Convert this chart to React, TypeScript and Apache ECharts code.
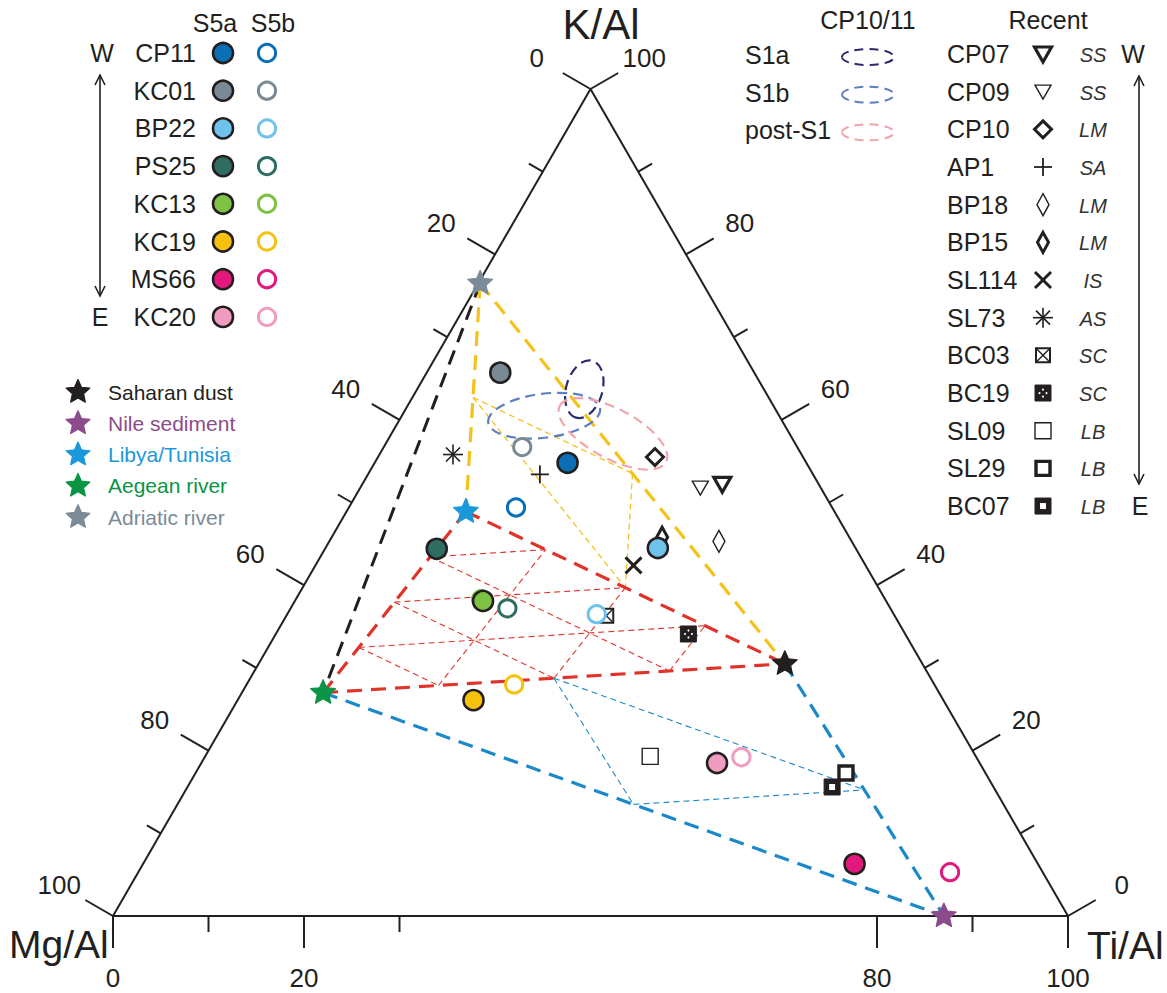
import React, { useEffect, useRef } from 'react';
import * as echarts from 'echarts';

// ---------------- data ----------------
const S5_SITES = ['CP11', 'KC01', 'BP22', 'PS25', 'KC13', 'KC19', 'MS66', 'KC20'];
const S5A_MG = [25.0, 26.6, 20.7, 43.9, 42.2, 49.2, 19.2, 27.5];
const S5A_TI = [20.2, 7.7, 34.8, 11.7, 19.7, 24.7, 74.5, 54.0];
const S5A_K = [54.8, 65.7, 44.5, 44.4, 38.1, 26.1, 6.3, 18.5];
const S5B_MG = [33.1, 28.8, 31.1, 40.1, 42.3, 44.0, 9.7, 24.6];
const S5B_TI = [17.5, 14.5, 32.4, 22.7, 19.4, 28.0, 85.0, 56.2];
const S5B_K = [49.4, 56.7, 36.5, 37.2, 38.3, 28.0, 5.3, 19.2];

const RECENT_SITES = ['CP07', 'CP09', 'CP10', 'AP1', 'BP18', 'BP15', 'SL114', 'SL73', 'BC03', 'BC19', 'SL09', 'SL29', 'BC07'];
const RECENT_CODES = ['SS', 'SS', 'LM', 'SA', 'LM', 'LM', 'IS', 'AS', 'SC', 'SC', 'LB', 'LB', 'LB'];
const RECENT_MG = [10.1, 12.6, 15.5, 28.6, 13.9, 19.6, 24.3, 36.5, 30.2, 22.7, 34.1, 14.6, 16.9];
const RECENT_TI = [37.7, 35.6, 29.0, 18.0, 40.8, 34.6, 33.3, 7.7, 33.5, 43.2, 46.6, 68.1, 67.5];
const RECENT_K = [52.2, 51.8, 55.5, 53.4, 45.3, 45.8, 42.4, 55.8, 36.3, 34.1, 19.3, 17.3, 15.6];

const EM_NAMES = ['Saharan dust', 'Nile sediment', 'Libya/Tunisia', 'Aegean river', 'Adriatic river'];
const EM_MG = [14.4, 13.0, 38.6, 64.5, 23.3];
const EM_TI = [55.1, 87.0, 12.5, 8.5, 0.2];
const EM_K = [30.5, 0.0, 48.9, 27.0, 76.5];

const ELL_NAMES = ['S1a', 'S1b', 'post-S1'];
const ELL_MG = [18.8, 24.6, 18.5];
const ELL_TI = [17.5, 14.9, 23.2];
const ELL_K = [63.7, 60.5, 58.3];
const ELL_SEMI_MAJOR = [3.1, 5.9, 6.3];
const ELL_SEMI_MINOR = [1.9, 2.3, 2.6];
const ELL_ANGLE = [74, 7, -28];

const TICK_VALUES = [0, 10, 20, 30, 40, 50, 60, 70, 80, 90, 100];
const BOTTOM_TICK_VALUES = [0, 10, 20, 30, 80, 90, 100];
const BOTTOM_LABELS = ['0', '20', '80', '100'];
const LEFT_LABELS = ['0', '20', '40', '60', '80', '100'];
const RIGHT_LABELS = ['0', '20', '40', '60', '80', '100'];

// ---------------- styles ----------------
const FONT = '"Liberation Sans", Arial, Helvetica, sans-serif';
const INK = '#231f20';
const S5_COLORS = ['#0b6fb6', '#7a8a95', '#6fc2ec', '#2f6d62', '#7dc242', '#f7c20e', '#e2197c', '#f09cc0'];
const EM_COLORS = ['#231f20', '#8c4b8a', '#1b98d9', '#0b9444', '#7b8b97'];
const ELL_COLORS = ['#2a2a72', '#5f7fc0', '#f2a3ab'];
const RECENT_KINDS = ['triBold', 'tri', 'diamondBold', 'plus', 'tallDiamond', 'tallDiamondBold', 'cross', 'asterisk', 'boxX', 'dotSquare', 'square', 'squareBold', 'holeSquare'];
const YELLOW = '#f5c21b';
const RED = '#e0332a';
const BLUE = '#1a88c9';

// ---------------- geometry helpers ----------------
const S3 = Math.sqrt(3) / 2;
const cart = (mg: number, ti: number, k: number): number[] => {
  const s = mg + ti + k;
  return [((ti + k / 2) / s) * 100, (k / s) * 100 * S3];
};
const lerp = (a: number[], b: number[], t: number) => [a[0] + (b[0] - a[0]) * t, a[1] + (b[1] - a[1]) * t];
const EM = EM_NAMES.map((_, i) => cart(EM_MG[i], EM_TI[i], EM_K[i]));
const [SAH, NILE, LIB, AEG, ADR] = EM;

function gridSegs(P: number[], Q: number[], R: number[], n: number) {
  const segs: number[][][] = [];
  for (let i = 1; i < n; i++) {
    const t = i / n;
    segs.push([lerp(P, Q, t), lerp(P, R, t)]);
    segs.push([lerp(Q, P, t), lerp(Q, R, t)]);
    segs.push([lerp(R, P, t), lerp(R, Q, t)]);
  }
  return segs;
}

function starPts(cx: number, cy: number, R: number) {
  const pts: number[][] = [];
  for (let i = 0; i < 10; i++) {
    const r = i % 2 === 0 ? R : R * 0.47;
    const a = -Math.PI / 2 + (i * Math.PI) / 5;
    pts.push([cx + r * Math.cos(a), cy + r * Math.sin(a)]);
  }
  return pts;
}
const starEl = (x: number, y: number, color: string, R = 13) => [
  { type: 'polygon', shape: { points: starPts(x, y, R) }, style: { fill: color, stroke: color, lineWidth: 1.2, lineJoin: 'round' } },
];
const filledCircle = (x: number, y: number, color: string) => [
  { type: 'circle', shape: { cx: x, cy: y, r: 10 }, style: { fill: color, stroke: INK, lineWidth: 2.6 } },
];
const openCircle = (x: number, y: number, color: string) => [
  { type: 'circle', shape: { cx: x, cy: y, r: 8.6 }, style: { fill: '#fff', stroke: color, lineWidth: 3 } },
];
const ln = (x1: number, y1: number, x2: number, y2: number, lw: number, color = INK) => ({
  type: 'line', shape: { x1, y1, x2, y2 }, style: { stroke: color, lineWidth: lw },
});
function recentSym(kind: string, x: number, y: number): any[] {
  const st = (lw: number, fill = '#fff') => ({ stroke: INK, lineWidth: lw, fill, lineJoin: 'miter' });
  switch (kind) {
    case 'tri':
      return [{ type: 'polygon', shape: { points: [[x - 8, y - 6.5], [x + 8, y - 6.5], [x, y + 7.5]] }, style: st(1.4) }];
    case 'triBold':
      return [{ type: 'polygon', shape: { points: [[x - 8.5, y - 7], [x + 8.5, y - 7], [x, y + 8]] }, style: st(3.2) }];
    case 'diamondBold':
      return [{ type: 'polygon', shape: { points: [[x, y - 8.5], [x + 8.5, y], [x, y + 8.5], [x - 8.5, y]] }, style: st(3) }];
    case 'plus':
      return [ln(x - 9, y, x + 9, y, 1.8), ln(x, y - 9, x, y + 9, 1.8)];
    case 'tallDiamond':
      return [{ type: 'polygon', shape: { points: [[x, y - 11], [x + 6, y], [x, y + 11], [x - 6, y]] }, style: st(1.4) }];
    case 'tallDiamondBold':
      return [{ type: 'polygon', shape: { points: [[x, y - 10], [x + 5.5, y], [x, y + 10], [x - 5.5, y]] }, style: st(3) }];
    case 'cross':
      return [ln(x - 8, y - 8, x + 8, y + 8, 3), ln(x - 8, y + 8, x + 8, y - 8, 3)];
    case 'asterisk':
      return [
        ln(x - 10, y, x + 10, y, 1.6), ln(x, y - 10, x, y + 10, 1.6),
        ln(x - 7, y - 7, x + 7, y + 7, 1.6), ln(x - 7, y + 7, x + 7, y - 7, 1.6),
      ];
    case 'boxX':
      return [
        { type: 'rect', shape: { x: x - 7, y: y - 7, width: 14, height: 14 }, style: st(2) },
        ln(x - 6, y - 6, x + 6, y + 6, 1.4), ln(x - 6, y + 6, x + 6, y - 6, 1.4),
      ];
    case 'dotSquare':
      return [
        { type: 'rect', shape: { x: x - 8, y: y - 8, width: 16, height: 16 }, style: { fill: INK, stroke: INK, lineWidth: 1 } },
        ...[[0, -3.5], [-3.5, 0], [3.5, 0], [0, 3.5]].map((d) => ({
          type: 'circle', shape: { cx: x + d[0], cy: y + d[1], r: 1 }, style: { fill: '#fff' },
        })),
      ];
    case 'square':
      return [{ type: 'rect', shape: { x: x - 8, y: y - 8, width: 16, height: 16 }, style: st(1.4) }];
    case 'squareBold':
      return [{ type: 'rect', shape: { x: x - 7, y: y - 7, width: 14, height: 14 }, style: st(3.4) }];
    case 'holeSquare':
      return [
        { type: 'rect', shape: { x: x - 8, y: y - 8, width: 16, height: 16 }, style: { fill: INK, stroke: INK, lineWidth: 1 } },
        { type: 'rect', shape: { x: x - 3, y: y - 3, width: 6, height: 6 }, style: { fill: '#fff' } },
      ];
  }
  return [];
}

const txt = (x: number, y: number, text: string, size: number, color = INK, align = 'center', extra = '') => ({
  type: 'text',
  x,
  y,
  style: {
    text,
    fill: color,
    font: `${extra}${size}px ${FONT}`,
    align,
    verticalAlign: 'middle',
    textAlign: align,
    textVerticalAlign: 'middle',
  },
});

// ---------------- series builders ----------------
function segSeries(name: string, segs: number[][][], color: string, lw: number, dash: number[] | null) {
  return {
    type: 'custom',
    name,
    coordinateSystem: 'cartesian2d',
    clip: false,
    silent: true,
    data: segs.map((s) => [s[0][0], s[0][1], s[1][0], s[1][1]]),
    encode: { x: [0, 2], y: [1, 3] },
    renderItem: (_p: any, api: any) => {
      const a = api.coord([api.value(0), api.value(1)]);
      const b = api.coord([api.value(2), api.value(3)]);
      return {
        type: 'line',
        shape: { x1: a[0], y1: a[1], x2: b[0], y2: b[1] },
        style: { stroke: color, lineWidth: lw, lineDash: dash || undefined, lineCap: 'butt' },
      };
    },
  };
}

function pointSeries(name: string, pts: number[][], draw: (i: number, x: number, y: number) => any[]) {
  return {
    type: 'custom',
    name,
    coordinateSystem: 'cartesian2d',
    clip: false,
    silent: true,
    data: pts,
    renderItem: (params: any, api: any) => {
      const p = api.coord([api.value(0), api.value(1)]);
      return { type: 'group', children: draw(params.dataIndex, p[0], p[1]) };
    },
  };
}

const EDGE_DIR = [[0, 1], [-S3, -0.5], [S3, -0.5]];
const tickPoint = (edge: number, v: number) =>
  edge === 0 ? cart(100 - v, v, 0) : edge === 1 ? cart(v, 0, 100 - v) : cart(0, 100 - v, v);

function buildOption() {
  const corners = [cart(100, 0, 0), cart(0, 100, 0), cart(0, 0, 100)];
  const outline = [[corners[0], corners[1]], [corners[1], corners[2]], [corners[2], corners[0]]];

  const tickData: number[][] = [];
  BOTTOM_TICK_VALUES.forEach((v) => tickData.push([0, v]));
  TICK_VALUES.forEach((v) => tickData.push([1, v]));
  TICK_VALUES.forEach((v) => tickData.push([2, v]));
  const labelSets = [BOTTOM_LABELS, LEFT_LABELS, RIGHT_LABELS];

  const tickSeries = {
    type: 'custom',
    name: 'ticks',
    coordinateSystem: 'cartesian2d',
    clip: false,
    silent: true,
    data: tickData,
    renderItem: (_p: any, api: any) => {
      const edge = api.value(0);
      const v = api.value(1);
      const p = api.coord(tickPoint(edge, v));
      const d = EDGE_DIR[edge];
      const len = v % 20 === 0 ? 32 : 16;
      const children: any[] = [ln(p[0], p[1], p[0] + d[0] * len, p[1] + d[1] * len, 2)];
      if (labelSets[edge].includes(String(v))) {
        children.push(txt(p[0] + d[0] * 62, p[1] + d[1] * 62, String(v), 26));
      }
      return { type: 'group', children };
    },
  };

  const ellipseSeries = {
    type: 'custom',
    name: 'CP10/11',
    coordinateSystem: 'cartesian2d',
    clip: false,
    silent: true,
    data: ELL_NAMES.map((_, i) => cart(ELL_MG[i], ELL_TI[i], ELL_K[i])),
    renderItem: (params: any, api: any) => {
      const i = params.dataIndex;
      const c = api.coord([api.value(0), api.value(1)]);
      const u = api.size([1, 1]);
      return {
        type: 'ellipse',
        x: c[0],
        y: c[1],
        rotation: (ELL_ANGLE[i] * Math.PI) / 180,
        shape: { cx: 0, cy: 0, rx: ELL_SEMI_MAJOR[i] * u[0], ry: ELL_SEMI_MINOR[i] * u[1] },
        style: { fill: 'none', stroke: ELL_COLORS[i], lineWidth: 2.2, lineDash: [10, 6] },
      };
    },
  };

  const series: any[] = [
    segSeries('outline', outline, INK, 2, null),
    tickSeries,
    segSeries('mix-red', gridSegs(AEG, LIB, SAH, 4), RED, 1.1, [6, 4]),
    segSeries('mix-yellow', gridSegs(ADR, LIB, SAH, 2), YELLOW, 1.3, [6, 4]),
    segSeries('mix-blue', gridSegs(AEG, SAH, NILE, 2), BLUE, 1.1, [6, 4]),
    segSeries('adr-aeg', [[ADR, AEG]], INK, 3, [15, 9]),
    segSeries('yellow', [[ADR, LIB], [ADR, SAH]], YELLOW, 3.2, [15, 9]),
    segSeries('blue', [[AEG, NILE], [SAH, NILE]], BLUE, 3.2, [15, 9]),
    segSeries('red', [[AEG, LIB], [LIB, SAH], [AEG, SAH]], RED, 3.2, [15, 9]),
    ellipseSeries,
    pointSeries(
      'Recent',
      RECENT_SITES.map((_, i) => cart(RECENT_MG[i], RECENT_TI[i], RECENT_K[i])),
      (i, x, y) => recentSym(RECENT_KINDS[i], x, y),
    ),
    pointSeries(
      'S5b',
      S5_SITES.map((_, i) => cart(S5B_MG[i], S5B_TI[i], S5B_K[i])),
      (i, x, y) => openCircle(x, y, S5_COLORS[i]),
    ),
    pointSeries(
      'S5a',
      S5_SITES.map((_, i) => cart(S5A_MG[i], S5A_TI[i], S5A_K[i])),
      (i, x, y) => filledCircle(x, y, S5_COLORS[i]),
    ),
    pointSeries('End members', EM, (i, x, y) => starEl(x, y, EM_COLORS[i])),
  ];

  // ---------------- legends (graphic) ----------------
  const g: any[] = [];
  // axis titles
  g.push(txt(601, 24, 'K/Al', 42));
  g.push(txt(9, 944, 'Mg/Al', 39, INK, 'left'));
  g.push(txt(1087, 945, 'Ti/Al', 39, INK, 'left'));

  // S5 legend
  g.push(txt(215, 23, 'S5a', 25));
  g.push(txt(273, 23, 'S5b', 25));
  S5_SITES.forEach((name, i) => {
    const y = 53 + i * 37.7;
    g.push(txt(196, y, name, 25, INK, 'right'));
    g.push(...filledCircle(223, y, S5_COLORS[i]));
    g.push(...openCircle(267, y, S5_COLORS[i]));
  });
  const arrow = (x: number, y1: number, y2: number) => [
    ln(x, y1, x, y2, 1.6),
    { type: 'polyline', shape: { points: [[x - 5, y1 + 10], [x, y1], [x + 5, y1 + 10]] }, style: { stroke: INK, lineWidth: 1.6, fill: 'none' } },
    { type: 'polyline', shape: { points: [[x - 5, y2 - 10], [x, y2], [x + 5, y2 - 10]] }, style: { stroke: INK, lineWidth: 1.6, fill: 'none' } },
  ];
  g.push(txt(102, 53, 'W', 25));
  g.push(txt(100, 317, 'E', 25));
  g.push(...arrow(100, 75, 296));

  // end member legend
  EM_NAMES.forEach((name, i) => {
    const y = 392 + i * 31.3;
    g.push(...starEl(78, y, EM_COLORS[i], 12.5));
    g.push(txt(108, y, name, 21, EM_COLORS[i], 'left'));
  });

  // CP10/11 legend
  g.push(txt(868, 20, 'CP10/11', 25));
  ELL_NAMES.forEach((name, i) => {
    const y = 55 + i * 37.67;
    g.push(txt(745, y, name, 25, INK, 'left'));
    g.push({
      type: 'ellipse',
      shape: { cx: 868, cy: y + 2, rx: 26, ry: 8 },
      style: { fill: 'none', stroke: ELL_COLORS[i], lineWidth: 2, lineDash: [9, 6] },
    });
  });

  // Recent legend
  g.push(txt(1048, 20, 'Recent', 25));
  RECENT_SITES.forEach((name, i) => {
    const y = 54 + i * 37.67;
    g.push(txt(947, y, name, 25, INK, 'left'));
    g.push(...recentSym(RECENT_KINDS[i], 1043, y));
    g.push(txt(1093, y + 1, RECENT_CODES[i], 20, '#333', 'center', 'italic '));
  });
  g.push(txt(1133, 54, 'W', 25));
  g.push(txt(1140, 506, 'E', 25));
  g.push(...arrow(1139, 76, 484));

  return {
    animation: false,
    backgroundColor: '#fff',
    grid: { left: 113, top: 89, width: 955, height: 827, containLabel: false },
    xAxis: { type: 'value', min: 0, max: 100, show: false },
    yAxis: { type: 'value', min: 0, max: 100 * S3, show: false },
    series,
    graphic: { elements: g },
  };
}

export default function App() {
  const ref = useRef<HTMLDivElement>(null);
  useEffect(() => {
    if (!ref.current) return;
    const chart = echarts.init(ref.current, null, { renderer: 'svg' });
    chart.setOption(buildOption() as any);
    return () => chart.dispose();
  }, []);
  return (
    <div
      ref={ref}
      style={{ position: 'absolute', left: 0, top: 0, width: 1167, height: 993, background: '#fff' }}
    />
  );
}
